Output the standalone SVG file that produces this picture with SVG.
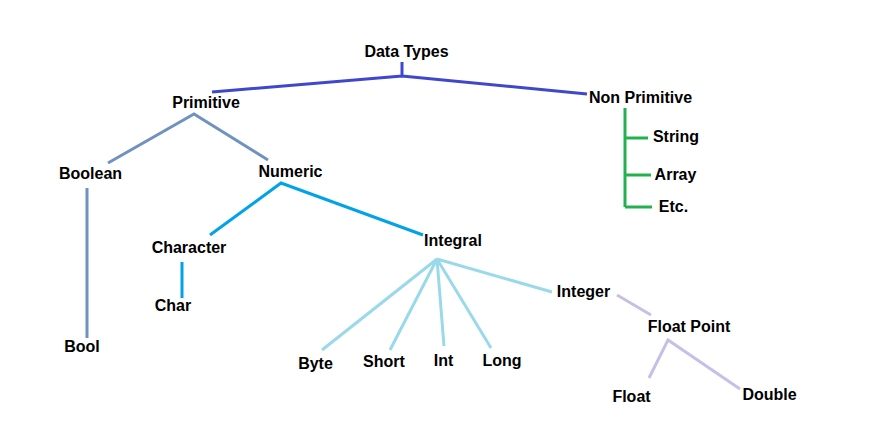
<svg xmlns="http://www.w3.org/2000/svg" width="886" height="433" viewBox="0 0 886 433">
<style>
text{font-family:"Liberation Sans",Arial,sans-serif;font-weight:bold;font-size:16px;fill:#000;text-anchor:middle}
.c{fill:none;stroke-width:3;stroke-linecap:butt;stroke-linejoin:miter}
.top{stroke:#3f48cc}
.prim{stroke:#7092be}
.num{stroke:#00a2e8}
.intg{stroke:#99d9ea}
.fl{stroke:#c8bfe7}
.np{stroke:#22b14c}
</style>
<rect width="886" height="433" fill="#fff"/>
<g id="connectors">
<path class="c top" d="M402,62 V76 M212,92 L402,76 L587,94"/>
<path class="c prim" d="M108,163 L194,114 L268,160 M87,188 V338"/>
<path class="c num" d="M210,235 L281,183 L423,235 M182,262 V298"/>
<path class="c intg" d="M322,350 L437,259 L390,350 M437,259 L444,346 M437,259 L491,348 M437,259 L552,292"/>
<path class="c fl" d="M617,295 L651,315 M649,378 L668,340 L740,389"/>
<path class="c np" d="M625,108 V207 M625,138 H648 M625,175 H651 M625,207 H652"/>
</g>
<g id="n-datatypes"><text x="406.5" y="57">Data Types</text></g>
<g id="n-primitive"><text x="206" y="108">Primitive</text></g>
<g id="n-nonprimitive"><text x="640.5" y="103">Non Primitive</text></g>
<g id="n-boolean"><text x="90.5" y="179">Boolean</text></g>
<g id="n-numeric"><text x="290.5" y="177">Numeric</text></g>
<g id="n-bool"><text x="82" y="352">Bool</text></g>
<g id="n-character"><text x="189" y="253">Character</text></g>
<g id="n-char"><text x="173" y="311">Char</text></g>
<g id="n-integral"><text x="453" y="246">Integral</text></g>
<g id="n-byte"><text x="315.5" y="369">Byte</text></g>
<g id="n-short"><text x="384" y="367">Short</text></g>
<g id="n-int"><text x="443.5" y="366">Int</text></g>
<g id="n-long"><text x="502" y="366">Long</text></g>
<g id="n-integer"><text x="583.5" y="297">Integer</text></g>
<g id="n-floatpoint"><text x="689" y="332">Float Point</text></g>
<g id="n-float"><text x="631.5" y="402">Float</text></g>
<g id="n-double"><text x="769.5" y="400">Double</text></g>
<g id="n-string"><text x="676" y="142">String</text></g>
<g id="n-array"><text x="675.5" y="180">Array</text></g>
<g id="n-etc"><text x="673.5" y="212">Etc.</text></g>
</svg>
